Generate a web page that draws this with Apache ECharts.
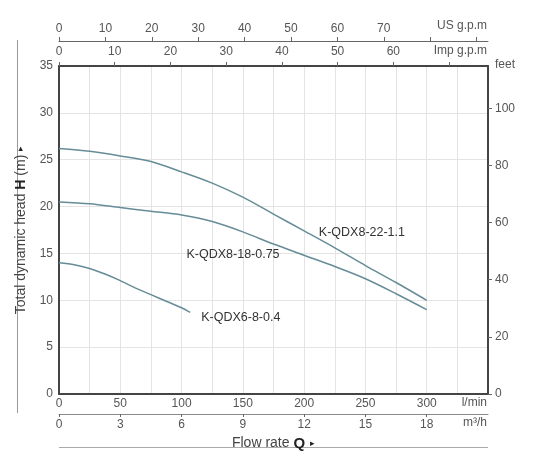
<!DOCTYPE html>
<html>
<head>
<meta charset="utf-8">
<script src="https://cdn.jsdelivr.net/npm/echarts@6/dist/echarts.min.js"></script>
<style>
html,body{margin:0;padding:0;background:#fff;}
#chart{width:534px;height:467px;}
</style>
</head>
<body>
<div id="chart"></div>
<script>
// ---- data ----
const flowLmin = [0, 25, 50, 75, 100, 125, 150, 175, 200, 225, 250, 275, 300];
const headQDX8_22 = [26.2, 25.9, 25.4, 24.8, 23.7, 22.5, 21.0, 19.2, 17.4, 15.6, 13.7, 11.9, 10.0];
const headQDX8_18 = [20.5, 20.3, 19.9, 19.5, 19.1, 18.4, 17.3, 16.0, 14.8, 13.6, 12.3, 10.7, 9.0];
const flowQDX6 = [0, 12.5, 25, 37.5, 50, 62.5, 75, 87.5, 100, 107];
const headQDX6 = [14.0, 13.8, 13.4, 12.8, 12.1, 11.3, 10.6, 9.9, 9.2, 8.7];
const seriesNames = ['K-QDX8-22-1.1', 'K-QDX8-18-0.75', 'K-QDX6-8-0.4'];
const labelAt = [[212, 17.2], [104, 14.9], [116, 8.2]];

const impTicks = [0, 10, 20, 30, 40, 50, 60, 70];
const impLabels = [0, 10, 20, 30, 40, 50, 60];
const usTicks = [0, 10, 20, 30, 40, 50, 60, 70, 80, 90];
const usLabels = [0, 10, 20, 30, 40, 50, 60, 70];
const m3hTicks = [0, 3, 6, 9, 12, 15, 18];
const feetTicks = [0, 20, 40, 60, 80, 100];

const LMIN_MAX = 350, H_MAX = 35;
const L_PER_IMP = 4.54609, L_PER_US = 3.78541, FT_PER_M = 3.28084;

const lineColor = '#668c98';
const txt = '#555';
const frame = '#444';

function pairs(xs, ys){ return xs.map((x,i)=>[x, ys[i]]); }

const curves = [pairs(flowLmin, headQDX8_22), pairs(flowLmin, headQDX8_18), pairs(flowQDX6, headQDX6)];

const chart = echarts.init(document.getElementById('chart'), null, {renderer:'canvas'});

const series = curves.map((d, i) => ({
  type: 'line',
  name: seriesNames[i],
  data: d,
  smooth: 0.3,
  symbol: 'none',
  lineStyle: {color: lineColor, width: 1.5},
  markPoint: {
    symbol: 'circle',
    symbolSize: 0,
    data: [{coord: labelAt[i], value: seriesNames[i]}],
    label: {show: true, position: 'right', distance: 0, formatter: seriesNames[i], color: '#333', fontSize: 12.5, fontFamily: 'Liberation Sans'}
  }
}));

chart.setOption({
  animation: false,
  backgroundColor: '#fff',
  textStyle: {fontFamily: 'Liberation Sans'},
  grid: {left: 59, right: 46, top: 66, bottom: 73},
  xAxis: [
    {
      type: 'value', position: 'bottom', min: 0, max: LMIN_MAX, interval: 25,
      axisLine: {onZero: false, lineStyle: {color: frame, width: 2}},
      axisTick: {show: false},
      axisLabel: {margin: 4, color: txt, fontSize: 12, formatter: v => (v % 50 === 0 && v < 350) ? String(v) : ''},
      splitLine: {show: true, lineStyle: {color: '#e4e4e4', width: 1}}
    },
    {
      type: 'value', position: 'top', min: 0, max: LMIN_MAX / L_PER_IMP,
      axisLine: {onZero: false, lineStyle: {color: frame, width: 2}},
      axisTick: {show: true, length: 4, customValues: impTicks, lineStyle: {color: '#666'}},
      axisLabel: {margin: 8, color: txt, fontSize: 12, customValues: impLabels},
      splitLine: {show: false}
    },
    {
      type: 'value', position: 'top', offset: 25, min: 0, max: LMIN_MAX / L_PER_US,
      axisLine: {onZero: false, lineStyle: {color: '#666', width: 1}},
      axisTick: {show: true, length: 4, customValues: usTicks, lineStyle: {color: '#666'}},
      axisLabel: {margin: 6, color: txt, fontSize: 12, customValues: usLabels},
      splitLine: {show: false}
    },
    {
      type: 'value', position: 'bottom', offset: 20, min: 0, max: LMIN_MAX * 0.06,
      axisLine: {onZero: false, lineStyle: {color: '#888', width: 1}},
      axisTick: {show: true, length: 3, customValues: m3hTicks, lineStyle: {color: '#666'}},
      axisLabel: {margin: 5, color: txt, fontSize: 12, customValues: m3hTicks},
      splitLine: {show: false},
      name: '{a|Flow rate }{b|Q}{c|  ▸}',
      nameLocation: 'middle', nameGap: 18,
      nameTextStyle: {rich: {
        a: {fontSize: 14, color: '#444'},
        b: {fontSize: 15, fontWeight: 'bold', color: '#222'},
        c: {fontSize: 9, color: '#222'}
      }}
    }
  ],
  yAxis: [
    {
      type: 'value', position: 'left', min: 0, max: H_MAX, interval: 5,
      axisLine: {show: true, onZero: false, lineStyle: {color: frame, width: 2}},
      axisTick: {show: false},
      axisLabel: {margin: 6, color: txt, fontSize: 12},
      splitLine: {show: true, lineStyle: {color: '#e4e4e4', width: 1}},
      name: '{a|Total dynamic head }{b|H}{a| (m) }{c|▸}',
      nameLocation: 'middle', nameGap: 31, nameRotate: 90,
      nameTextStyle: {rich: {
        a: {fontSize: 14, color: '#444'},
        b: {fontSize: 14, fontWeight: 'bold', color: '#222'},
        c: {fontSize: 9, color: '#222'}
      }}
    },
    {
      type: 'value', position: 'right', min: 0, max: H_MAX * FT_PER_M,
      axisLine: {show: true, onZero: false, lineStyle: {color: frame, width: 2}},
      axisTick: {show: true, length: 4, customValues: feetTicks, lineStyle: {color: '#666'}},
      axisLabel: {margin: 7, color: txt, fontSize: 12, customValues: feetTicks},
      splitLine: {show: false}
    }
  ],
  graphic: [
    {type: 'text', right: 47, top: 20, style: {text: 'US g.p.m', fill: txt, font: '12px "Liberation Sans"'}},
    {type: 'text', right: 47, top: 45, style: {text: 'Imp g.p.m', fill: txt, font: '12px "Liberation Sans"'}},
    {type: 'text', left: 495, top: 59, style: {text: 'feet', fill: txt, font: '12px "Liberation Sans"'}},
    {type: 'text', right: 47, top: 397, style: {text: 'l/min', fill: txt, font: '12px "Liberation Sans"'}},
    {type: 'text', right: 47, top: 417, style: {text: 'm³/h', fill: txt, font: '12px "Liberation Sans"'}},
    {type: 'line', shape: {x1: 17.5, y1: 40, x2: 17.5, y2: 413}, style: {stroke: '#999', lineWidth: 1}},
    {type: 'line', shape: {x1: 59, y1: 447.5, x2: 488, y2: 447.5}, style: {stroke: '#aaa', lineWidth: 1}}
  ],
  series: series
});
</script>
</body>
</html>
